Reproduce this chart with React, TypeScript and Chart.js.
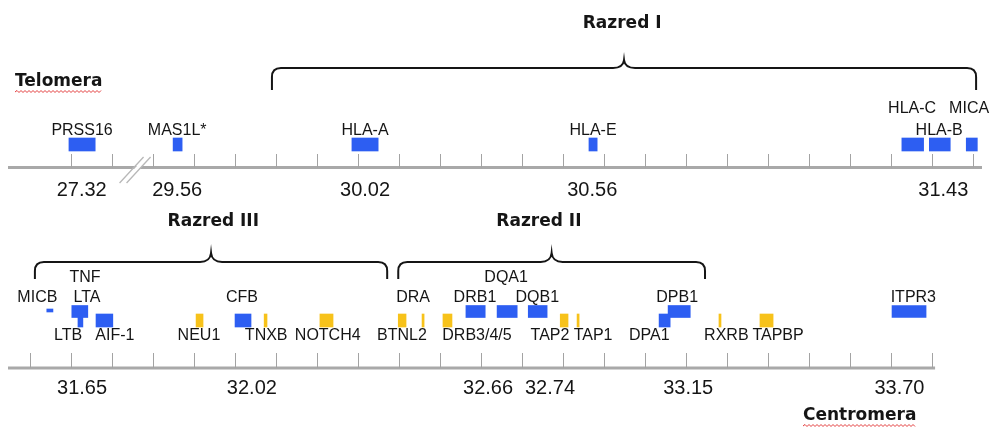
import React, { useEffect, useRef } from 'react';
import { Chart, registerables } from 'chart.js';

Chart.register(...registerables);

// Map units: one unit = one tick step of the schematic axes.

// ---------- Top panel (Telomera side) ----------
const TOP_GENES = ['PRSS16', 'MAS1L*', 'HLA-A', 'HLA-E', 'HLA-C', 'HLA-B', 'MICA'];
const TOP_START = [0.95, 3.49, 7.85, 13.63, 21.26, 21.93, 22.83];
const TOP_END = [1.59, 3.71, 8.49, 13.83, 21.79, 22.44, 23.1];
const TOP_LABEL_POS = [1.27, 3.59, 8.17, 13.73, 21.51, 22.17, 22.9];
const TOP_LABEL_LEVEL = ['mid', 'mid', 'mid', 'mid', 'high', 'mid', 'high'];
const TOP_TICK_FROM = 1;
const TOP_TICK_TO = 23;
const TOP_TICK_LABELS = ['27.32', '29.56', '30.02', '30.56', '31.43'];
const TOP_TICK_LABEL_POS = [1.26, 3.59, 8.17, 13.71, 22.27];
const TOP_AXIS_END = 23.214;
const BREAK_AT = 2.55;

// ---------- Bottom panel (Centromera side) ----------
const BOT_BARS = ['MICB', 'TNF/LTA', 'LTB', 'AIF-1', 'NEU1', 'CFB', 'TNXB', 'NOTCH4', 'BTNL2', 'DRA',
  'DRB3/4/5', 'DRB1', 'DQA1', 'DQB1', 'TAP2', 'TAP1', 'DPA1', 'DPB1', 'RXRB', 'TAPBP', 'ITPR3'];
const BOT_START = [0.41, 1.02, 1.17, 1.61, 4.05, 5.0, 5.71, 7.07, 8.98, 9.56,
  10.07, 10.63, 11.39, 12.15, 12.93, 13.34, 15.34, 15.56, 16.8, 17.8, 21.02];
const BOT_END = [0.56, 1.41, 1.29, 2.02, 4.22, 5.39, 5.78, 7.39, 9.17, 9.61,
  10.29, 11.1, 11.88, 12.61, 13.12, 13.39, 15.61, 16.1, 16.85, 18.12, 21.85];
const BOT_KIND = ['hla', 'hla', 'hla', 'hla', 'other', 'hla', 'other', 'other', 'other', 'other',
  'other', 'hla', 'hla', 'hla', 'other', 'other', 'hla', 'hla', 'other', 'other', 'hla'];
const BOT_ROW = ['dash', 'upper', 'stem', 'lower', 'lower', 'lower', 'lower', 'lower', 'lower', 'lower',
  'lower', 'upper', 'upper', 'upper', 'lower', 'lower', 'lower', 'upper', 'lower', 'lower', 'upper'];

const BOT_LABELS = ['TNF', 'DQA1', 'MICB', 'LTA', 'CFB', 'DRA', 'DRB1', 'DQB1', 'DPB1', 'ITPR3',
  'LTB', 'AIF-1', 'NEU1', 'TNXB', 'NOTCH4', 'BTNL2', 'DRB3/4/5', 'TAP2', 'TAP1', 'DPA1', 'RXRB', 'TAPBP'];
const BOT_LABEL_POS = [1.34, 11.61, 0.18, 1.39, 5.17, 9.34, 10.85, 12.37, 15.78, 21.54,
  0.93, 2.07, 4.12, 5.76, 7.26, 9.07, 10.9, 12.68, 13.73, 15.1, 16.98, 18.24];
const BOT_LABEL_LEVEL = ['high', 'high', 'mid', 'mid', 'mid', 'mid', 'mid', 'mid', 'mid', 'mid',
  'low', 'low', 'low', 'low', 'low', 'low', 'low', 'low', 'low', 'low', 'low', 'low'];
const BOT_TICK_FROM = 0;
const BOT_TICK_TO = 22;
const BOT_TICK_LABELS = ['31.65', '32.02', '32.66', '32.74', '33.15', '33.70'];
const BOT_TICK_LABEL_POS = [1.27, 5.41, 11.17, 12.68, 16.05, 21.2];
const BOT_AXIS_END = 22.07;

// ---------- Regions (braces) ----------
const REGION_NAMES = ['Razred I', 'Razred III', 'Razred II'];
const REGION_FROM = [5.9, 0.12, 8.98];
const REGION_TO = [23.07, 8.71, 16.46];
const REGION_LABEL_POS = [14.44, 4.47, 12.41];
const REGION_PANEL = ['top', 'bottom', 'bottom'];

// ---------- Layout & style (not data) ----------
const X_MIN = -0.536;
const X_MAX = 23.214;
const BLUE = '#2d5ef2';
const YELLOW = '#f7c21a';
const AXIS_GRAY = '#a9a9a9';
const TEXT = '#151515';
const ROWS: Record<string, { y: number; h: number }> = {
  top: { y: 144.5, h: 13 },
  upper: { y: 311.5, h: 12 },
  lower: { y: 320.5, h: 13 },
  stem: { y: 322, h: 10 },
  dash: { y: 310.5, h: 3 },
};
const PANELS = {
  top: { axisY: 167.5, tickTop: 154, tickLabelY: 190, braceTop: 68, braceEnd: 90, cusp: 8, regionLabelY: 24,
    labelY: { high: 109, mid: 130.5, low: 0 } as Record<string, number> },
  bottom: { axisY: 368, tickTop: 353, tickLabelY: 388.5, braceTop: 262, braceEnd: 279, cusp: 9, regionLabelY: 222,
    labelY: { high: 278, mid: 298, low: 336 } as Record<string, number> },
};
const GENE_FONT = '16px "Liberation Sans", Arial, sans-serif';
const TICK_FONT = '20px "Liberation Sans", Arial, sans-serif';
const TITLE_FONT = 'bold 17px "DejaVu Sans", Verdana, sans-serif';

function squiggle(ctx: CanvasRenderingContext2D, x1: number, x2: number, y: number) {
  ctx.save();
  ctx.strokeStyle = '#e23b3b';
  ctx.lineWidth = 1;
  ctx.beginPath();
  let up = true;
  ctx.moveTo(x1, y);
  for (let x = x1 + 2; x <= x2; x += 2) {
    ctx.lineTo(x, up ? y - 1.5 : y + 0.5);
    up = !up;
  }
  ctx.stroke();
  ctx.restore();
}

function brace(ctx: CanvasRenderingContext2D, x1: number, x2: number, yTop: number, yEnd: number, cusp: number) {
  const xc = (x1 + x2) / 2;
  const r = 9;
  const c = 11;
  ctx.beginPath();
  ctx.moveTo(x1, yEnd);
  ctx.lineTo(x1, yTop + r);
  ctx.quadraticCurveTo(x1, yTop, x1 + r, yTop);
  ctx.lineTo(xc - c, yTop);
  ctx.quadraticCurveTo(xc - 1, yTop, xc, yTop - cusp);
  ctx.quadraticCurveTo(xc + 1, yTop, xc + c, yTop);
  ctx.lineTo(x2 - r, yTop);
  ctx.quadraticCurveTo(x2, yTop, x2, yTop + r);
  ctx.lineTo(x2, yEnd);
  ctx.stroke();
}

const mapPlugin = {
  id: 'hlaMap',
  beforeDatasetsDraw(chart: any) {
    const ctx: CanvasRenderingContext2D = chart.ctx;
    const xs = chart.scales.x;
    const px = (u: number) => xs.getPixelForValue(u);
    ctx.save();

    const drawAxis = (p: any, from: number, to: number, endU: number) => {
      ctx.strokeStyle = AXIS_GRAY;
      ctx.lineWidth = 3;
      ctx.beginPath();
      ctx.moveTo(px(X_MIN), p.axisY);
      ctx.lineTo(px(endU), p.axisY);
      ctx.stroke();
      ctx.lineWidth = 1;
      ctx.strokeStyle = '#a3a3a3';
      for (let t = from; t <= to; t++) {
        const x = Math.round(px(t)) + 0.5;
        ctx.beginPath();
        ctx.moveTo(x, p.tickTop);
        ctx.lineTo(x, p.axisY);
        ctx.stroke();
      }
    };
    drawAxis(PANELS.top, TOP_TICK_FROM, TOP_TICK_TO, TOP_AXIS_END);
    drawAxis(PANELS.bottom, BOT_TICK_FROM, BOT_TICK_TO, BOT_AXIS_END);

    // axis break
    const bx = px(BREAK_AT);
    ctx.fillStyle = '#ffffff';
    ctx.beginPath();
    ctx.moveTo(bx - 13, 182);
    ctx.lineTo(bx + 11, 157);
    ctx.lineTo(bx + 16, 157);
    ctx.lineTo(bx - 8, 182);
    ctx.closePath();
    ctx.fill();
    ctx.strokeStyle = '#b8b8b8';
    ctx.lineWidth = 1.3;
    ctx.beginPath();
    ctx.moveTo(bx - 15, 183);
    ctx.lineTo(bx + 9, 157);
    ctx.moveTo(bx - 8, 183);
    ctx.lineTo(bx + 16, 157);
    ctx.stroke();

    // braces
    ctx.strokeStyle = '#151515';
    ctx.lineWidth = 2;
    for (let i = 0; i < REGION_NAMES.length; i++) {
      const p = REGION_PANEL[i] === 'top' ? PANELS.top : PANELS.bottom;
      brace(ctx, px(REGION_FROM[i]), px(REGION_TO[i]), p.braceTop, p.braceEnd, p.cusp);
    }
    ctx.restore();
  },
  afterDatasetsDraw(chart: any) {
    const ctx: CanvasRenderingContext2D = chart.ctx;
    const xs = chart.scales.x;
    const px = (u: number) => xs.getPixelForValue(u);
    ctx.save();
    ctx.fillStyle = TEXT;
    ctx.textAlign = 'center';
    ctx.textBaseline = 'middle';

    ctx.font = GENE_FONT;
    TOP_GENES.forEach((g, i) => ctx.fillText(g, px(TOP_LABEL_POS[i]), PANELS.top.labelY[TOP_LABEL_LEVEL[i]]));
    BOT_LABELS.forEach((g, i) => ctx.fillText(g, px(BOT_LABEL_POS[i]), PANELS.bottom.labelY[BOT_LABEL_LEVEL[i]]));

    ctx.font = TICK_FONT;
    TOP_TICK_LABELS.forEach((t, i) => ctx.fillText(t, px(TOP_TICK_LABEL_POS[i]), PANELS.top.tickLabelY));
    BOT_TICK_LABELS.forEach((t, i) => ctx.fillText(t, px(BOT_TICK_LABEL_POS[i]), PANELS.bottom.tickLabelY));

    ctx.font = TITLE_FONT;
    for (let i = 0; i < REGION_NAMES.length; i++) {
      const p = REGION_PANEL[i] === 'top' ? PANELS.top : PANELS.bottom;
      ctx.fillText(REGION_NAMES[i], px(REGION_LABEL_POS[i]), p.regionLabelY);
    }

    ctx.textAlign = 'left';
    ctx.fillText('Telomera', 15, 82);
    const tw = ctx.measureText('Telomera').width;
    ctx.fillText('Centromera', 803, 416);
    const cw = ctx.measureText('Centromera').width;
    squiggle(ctx, 15, 15 + tw, 92);
    squiggle(ctx, 803, 803 + cw, 426);
    ctx.restore();
  },
};

function buildDatasets() {
  const ds: any[] = [];
  const topData = TOP_GENES.map((_, i) => ({ x: [TOP_START[i], TOP_END[i]], y: ROWS.top.y }));
  ds.push({
    label: 'top',
    data: topData,
    backgroundColor: BLUE,
    barThickness: ROWS.top.h,
    grouped: false,
    borderWidth: 0,
  });
  ['lower', 'upper', 'stem', 'dash'].forEach((row) => {
    const idx = BOT_BARS.map((_, i) => i).filter((i) => BOT_ROW[i] === row);
    ds.push({
      label: row,
      data: idx.map((i) => ({ x: [BOT_START[i], BOT_END[i]], y: ROWS[row].y })),
      backgroundColor: idx.map((i) => (BOT_KIND[i] === 'hla' ? BLUE : YELLOW)),
      barThickness: ROWS[row].h,
      grouped: false,
      borderWidth: 0,
    });
  });
  return ds;
}

export default function App() {
  const ref = useRef<HTMLCanvasElement>(null);
  useEffect(() => {
    document.body.style.margin = '0';
    const canvas = ref.current;
    if (!canvas) return;
    const chart = new Chart(canvas, {
      type: 'bar',
      data: { datasets: buildDatasets() },
      options: {
        indexAxis: 'y',
        responsive: false,
        animation: false,
        devicePixelRatio: 1,
        layout: { padding: { left: 8, right: 13, top: 0, bottom: 0 } },
        plugins: { legend: { display: false }, tooltip: { enabled: false } },
        scales: {
          x: { type: 'linear', min: X_MIN, max: X_MAX, display: false, offset: false },
          y: { type: 'linear', min: 0, max: 430, reverse: true, display: false, offset: false },
        },
      },
      plugins: [mapPlugin],
    } as any);
    return () => chart.destroy();
  }, []);
  return (
    <div style={{ width: 995, height: 430, background: '#fff' }}>
      <canvas ref={ref} width={995} height={430} style={{ display: 'block' }} />
    </div>
  );
}
